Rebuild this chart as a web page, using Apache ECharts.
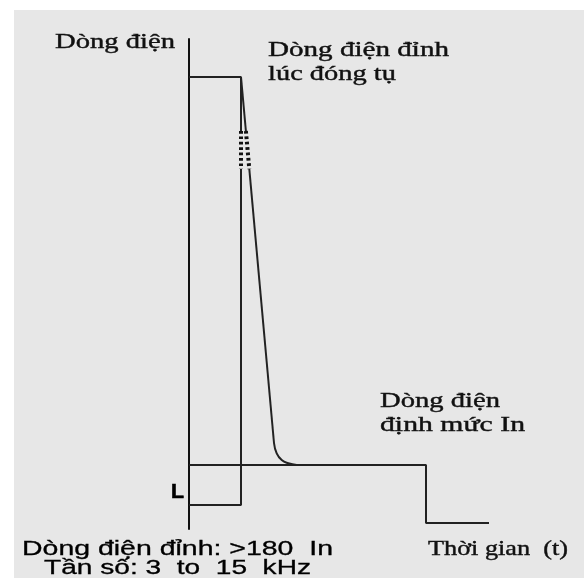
<!DOCTYPE html>
<html><head><meta charset="utf-8">
<script src="https://cdn.jsdelivr.net/npm/echarts@6/dist/echarts.min.js"></script>
<style>html,body{margin:0;padding:0;background:#fff}#c{width:584px;height:578px}</style>
</head><body><div id="c"></div>
<script>
// Schematic data (x: time units, y: current units)
const boxTop = [[0,45.2],[5.2,45.2],[5.2,39.8]];
const boxBottom = [[5.2,36.0],[5.2,2.4],[0,2.4]];
const boxBreak = [[5.2,39.8],[5.2,36.0]];
const decayTop = [[5.2,45.2],[5.69,39.8]];
const decayBreak = [[5.69,39.8],[6.03,36.0]];
const decayMid = [[6.03,36.0],[8.5,8.6]];
const decayKnee = [[8.5,8.6],[8.77,7.57],[9.27,6.9],[9.93,6.57],[10.77,6.4]];
const ratedLine = [[0,6.4],[23.7,6.4],[23.7,0.6],[30,0.6]];

const labelsSerif = ['Dòng điện','Dòng điện đỉnh','lúc đóng tụ','Dòng điện','định mức In','Thời gian  (t)'];
const labelsSans = ['Dòng điện đỉnh: >180  In','Tần số: 3  to  15  kHz'];
const labelL = 'L';

const chart = echarts.init(document.getElementById('c'));
const cv = document.createElement('canvas').getContext('2d');
function fitText(text, font, left, baseline, width, size, fill, strokeW){
  cv.font = font;
  const w = cv.measureText(text).width;
  const st = {text:text, font:font, fill:fill||'#111', align:'left', verticalAlign:'top'};
  if (strokeW) { st.stroke = fill||'#111'; st.lineWidth = strokeW; }
  return {type:'text', x:left, y:baseline - 0.82*size, scaleX: width/w, scaleY:1, z:10, style:st};
}
const SF = '21px "Liberation Serif"';
const SS = '20px "Liberation Sans"';
const lineStyle = {color:'#222', width:2};
function seg(data, extra){
  return Object.assign({type:'line', data:data, symbol:'none', lineStyle:lineStyle, silent:true, animation:false}, extra||{});
}
const brk = {lineStyle:{color:'#111', width:4, type:[2.7,2.7], cap:'butt'}};

chart.setOption({
  backgroundColor:'#ffffff',
  animation:false,
  grid:{left:189, right:95, top:39, bottom:49},
  xAxis:{type:'value', min:0, max:30, show:false},
  yAxis:{type:'value', min:0, max:49, axisLine:{show:true, lineStyle:{color:'#111', width:2}},
    axisTick:{show:false}, axisLabel:{show:false}, splitLine:{show:false}},
  graphic:[
    {type:'rect', shape:{x:14, y:10, width:570, height:568}, style:{fill:'#e7e7e7'}, z:-10, silent:true},
    fitText(labelsSerif[0], SF, 55, 49, 120, 21, '#111', 0.4),
    fitText(labelsSerif[1], SF, 268, 57, 181, 21, '#111', 0.4),
    fitText(labelsSerif[2], SF, 268, 81, 128, 21, '#111', 0.4),
    fitText(labelsSerif[3], SF, 380, 408, 120, 21, '#111', 0.4),
    fitText(labelsSerif[4], SF, 380, 432, 145, 21, '#111', 0.4),
    fitText(labelsSerif[5], SF, 428, 556, 140, 21, '#111', 0.4),
    fitText(labelsSans[0], SS, 22, 556, 311, 20, '#000', 0.3),
    fitText(labelsSans[1], SS, 44, 575, 267, 20, '#000', 0.3),
    fitText(labelL, 'bold 21px "Liberation Sans"', 171, 499, 13, 21, '#000', 0.6)
  ],
  series:[
    seg(boxTop), seg(boxBottom), seg(boxBreak, brk),
    seg(decayTop), seg(decayBreak, brk), seg(decayMid),
    seg(decayKnee, {smooth:true}),
    seg(ratedLine)
  ]
});
</script></body></html>
